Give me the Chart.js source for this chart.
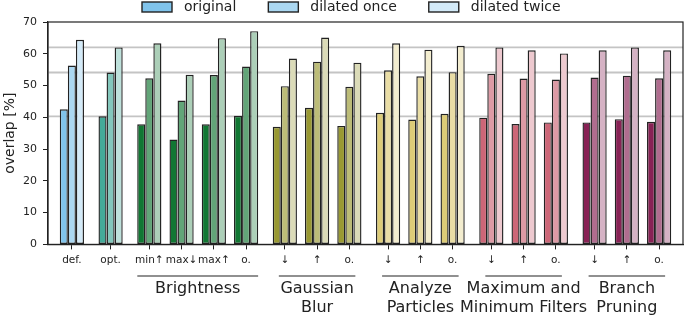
<!DOCTYPE html>
<html>
<head>
<meta charset="utf-8">
<title>Overlap per preprocessing step</title>
<script src="https://cdn.jsdelivr.net/npm/chart.js@4/dist/chart.umd.min.js"></script>
<style>
  html, body { margin: 0; padding: 0; background: #fff; }
</style>
</head>
<body>
<canvas id="overlapChart" width="685" height="318"></canvas>
<script>
// x tick labels, their positions (families are separated by a small extra gap)
const tickLabels = ['def.', 'opt.', 'min↑', 'max↓', 'max↑', 'o.', '↓', '↑', 'o.', '↓', '↑', 'o.', '↓', '↑', 'o.', '↓', '↑', 'o.'];
const positions = [0, 1.2, 2.4, 3.4, 4.4, 5.4, 6.6, 7.6, 8.6, 9.8, 10.8, 11.8, 13.0, 14.0, 15.0, 16.2, 17.2, 18.2];
const familyOf = [0, 1, 2, 2, 2, 2, 3, 3, 3, 4, 4, 4, 5, 5, 5, 6, 6, 6];
const familyNames = [null, null, ['Brightness'], ['Gaussian', 'Blur'], ['Analyze', 'Particles'],
  ['Maximum and', 'Minimum Filters'], ['Branch', 'Pruning']];

// overlap [%] per series
const seriesNames = ['original', 'dilated once', 'dilated twice'];
const original = [42.5, 40.3, 37.8, 33.0, 37.8, 40.5, 37.0, 43.0, 37.3, 41.4, 39.3, 41.1, 39.9, 37.9, 38.4, 38.4, 39.4, 38.6];
const dilatedOnce = [56.3, 54.1, 52.3, 45.3, 53.3, 56.0, 49.8, 57.5, 49.6, 54.8, 52.9, 54.2, 53.7, 52.2, 51.9, 52.5, 53.1, 52.3];
const dilatedTwice = [64.4, 62.0, 63.3, 53.4, 64.9, 67.1, 58.5, 65.1, 57.2, 63.3, 61.3, 62.5, 62.0, 61.1, 60.1, 61.1, 62.0, 61.1];
const seriesValues = [original, dilatedOnce, dilatedTwice];
const refIndex = 1; // grey lines mark the "opt." results

// styling
const familyColors = ['#80C4EC', '#44AA99', '#117733', '#999933', '#DDCC77', '#CC6677', '#882255'];
const shadeAlpha = [1, 0.66, 0.35];
const headerLinePad = [0, 0, 12, 6, 6, 6, 6];
const edge = '#222222';
const fontFamily = '"DejaVu Sans", sans-serif';

function tint(hex, alpha) {
  const n = parseInt(hex.slice(1), 16);
  const mix = c => Math.round(c * alpha + 255 * (1 - alpha));
  return 'rgb(' + mix((n >> 16) & 255) + ', ' + mix((n >> 8) & 255) + ', ' + mix(n & 255) + ')';
}

// grey reference lines behind the bars + frame around the plot
const framePlugin = {
  id: 'frame',
  beforeDatasetsDraw(chart) {
    const {ctx, chartArea} = chart;
    const y = chart.scales.y;
    ctx.save();
    ctx.strokeStyle = '#c4c4c4';
    ctx.lineWidth = 1.8;
    seriesValues.forEach(vals => {
      const py = y.getPixelForValue(vals[refIndex]);
      ctx.beginPath();
      ctx.moveTo(chartArea.left, py);
      ctx.lineTo(chartArea.right, py);
      ctx.stroke();
    });
    ctx.restore();
  },
  afterDatasetsDraw(chart) {
    const {ctx, chartArea} = chart;
    ctx.save();
    ctx.strokeStyle = edge;
    ctx.lineWidth = 1.2;
    ctx.strokeRect(chartArea.left, chartArea.top, chartArea.right - chartArea.left, chartArea.bottom - chartArea.top);
    ctx.restore();
  }
};

// family headers under the tick labels
const headerPlugin = {
  id: 'headers',
  afterDraw(chart) {
    const {ctx} = chart;
    const x = chart.scales.x;
    ctx.save();
    ctx.font = '16px ' + fontFamily;
    ctx.fillStyle = edge;
    ctx.strokeStyle = edge;
    ctx.lineWidth = 1.2;
    ctx.textAlign = 'center';
    ctx.textBaseline = 'middle';
    familyNames.forEach((name, f) => {
      if (!name) return;
      const idx = familyOf.map((g, i) => g === f ? i : -1).filter(i => i >= 0);
      const x0 = x.getPixelForValue(positions[idx[0]]);
      const x1 = x.getPixelForValue(positions[idx[idx.length - 1]]);
      const mid = (x0 + x1) / 2;
      ctx.beginPath();
      ctx.moveTo(x0 - headerLinePad[f], 276);
      ctx.lineTo(x1 + headerLinePad[f], 276);
      ctx.stroke();
      name.forEach((line, k) => ctx.fillText(line, mid, 289 + k * 19));
    });
    ctx.restore();
  }
};

// legend above the plot
const legendPlugin = {
  id: 'topLegend',
  afterDraw(chart) {
    const {ctx} = chart;
    ctx.save();
    ctx.font = '14px ' + fontFamily;
    ctx.textBaseline = 'middle';
    ctx.textAlign = 'left';
    let lx = 142;
    chart.data.datasets.forEach((ds, s) => {
      ctx.fillStyle = tint(familyColors[0], shadeAlpha[s]);
      ctx.fillRect(lx, 2, 30, 10);
      ctx.strokeStyle = edge;
      ctx.lineWidth = 1.4;
      ctx.strokeRect(lx, 2, 30, 10);
      ctx.fillStyle = edge;
      ctx.fillText(ds.label, lx + 42, 7);
      lx += 42 + ctx.measureText(ds.label).width + 32;
    });
    ctx.restore();
  }
};

const ctx = document.getElementById('overlapChart').getContext('2d');

new Chart(ctx, {
  type: 'bar',
  data: {
    datasets: seriesValues.map((vals, s) => ({
      label: seriesNames[s],
      data: vals.map((v, i) => ({x: positions[i], y: v})),
      backgroundColor: c => tint(familyColors[familyOf[c.dataIndex] ?? 0], shadeAlpha[s]),
      borderColor: edge,
      borderWidth: 1.4,
      borderSkipped: false,
      categoryPercentage: 0.75,
      barPercentage: 1
    }))
  },
  options: {
    responsive: false,
    animation: false,
    layout: {
      padding: {left: 2, right: 2, top: 22, bottom: 46}
    },
    plugins: {
      legend: {display: false},
      tooltip: {enabled: false}
    },
    scales: {
      x: {
        type: 'linear',
        min: -0.74,
        max: 18.94,
        offset: false,
        afterBuildTicks: scale => {
          scale.ticks = positions.map(v => ({value: v}));
        },
        ticks: {
          autoSkip: false,
          maxRotation: 0,
          padding: 5,
          color: edge,
          font: {family: fontFamily, size: 10.5},
          callback: (value, index) => tickLabels[index]
        },
        grid: {
          offset: false,
          drawOnChartArea: false,
          drawTicks: true,
          tickLength: 5,
          tickColor: edge
        },
        border: {display: true, color: edge, width: 1.2}
      },
      y: {
        min: 0,
        max: 70,
        afterFit: scale => { scale.width = 46; },
        ticks: {
          stepSize: 10,
          padding: 6,
          color: edge,
          font: {family: fontFamily, size: 11}
        },
        grid: {
          drawOnChartArea: false,
          drawTicks: true,
          tickLength: 5,
          tickColor: edge
        },
        border: {display: true, color: edge, width: 1.2},
        title: {
          display: true,
          text: 'overlap [%]',
          color: edge,
          padding: {top: 0, bottom: 3},
          font: {family: fontFamily, size: 14}
        }
      }
    }
  },
  plugins: [framePlugin, headerPlugin, legendPlugin]
});
</script>
</body>
</html>
